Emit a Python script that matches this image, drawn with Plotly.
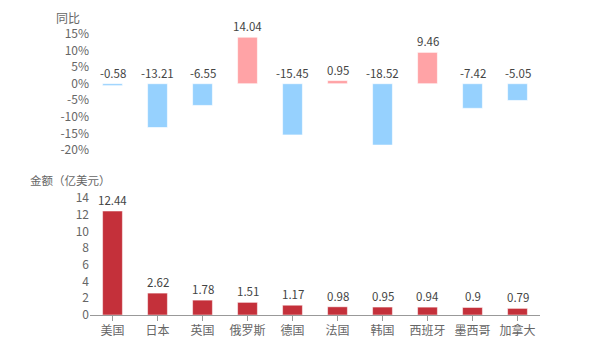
import plotly.graph_objects as go

countries = ["美国", "日本", "英国", "俄罗斯", "德国", "法国", "韩国", "西班牙", "墨西哥", "加拿大"]
yoy = [-0.58, -13.21, -6.55, 14.04, -15.45, 0.95, -18.52, 9.46, -7.42, -5.05]
amount = [12.44, 2.62, 1.78, 1.51, 1.17, 0.98, 0.95, 0.94, 0.9, 0.79]
yoy_ticks = [-20, -15, -10, -5, 0, 5, 10, 15]
amount_ticks = [0, 2, 4, 6, 8, 10, 12, 14]

FONT = "Noto Sans CJK SC, Microsoft YaHei, sans-serif"
POS = "#FFA3A6"
NEG = "#96D1FE"
RED = "#C4303A"

fig = go.Figure()
fig.add_trace(go.Bar(
    x=countries, y=yoy, xaxis="x", yaxis="y", width=0.44,
    marker=dict(color=[POS if v >= 0 else NEG for v in yoy],
                line=dict(color="rgba(255,255,255,0.6)", width=1)),
    hoverinfo="x+y", showlegend=False))
fig.add_trace(go.Bar(
    x=countries, y=amount, xaxis="x2", yaxis="y2", width=0.44,
    marker=dict(color=RED, line=dict(color="rgba(255,255,255,0.5)", width=1)),
    hoverinfo="x+y", showlegend=False))

annotations = []
for c, v in zip(countries, yoy):
    annotations.append(dict(x=c, y=max(v, 0), xref="x", yref="y", text=f"{v:g}",
                            showarrow=False, yanchor="middle", yshift=11,
                            font=dict(size=11.5, color="#444", family=FONT)))
for c, v in zip(countries, amount):
    annotations.append(dict(x=c, y=v, xref="x2", yref="y2", text=f"{v:g}",
                            showarrow=False, yanchor="middle", yshift=11,
                            font=dict(size=11.5, color="#444", family=FONT)))
annotations.append(dict(text="同比", xref="paper", yref="paper", x=(82 - 90) / 450, y=(315 - 18) / 281,
                        xanchor="right", yanchor="middle", showarrow=False,
                        font=dict(size=12, color="#666", family=FONT)))
annotations.append(dict(text="金额（亿美元）", xref="paper", yref="paper", x=(28 - 90) / 450,
                        y=(315 - 180) / 281, xanchor="left", yanchor="middle", showarrow=False,
                        font=dict(size=11.5, color="#666", family=FONT)))

top_dom = [1 - 116 / 281, 1]
bot_dom = [0, 1 - 164 / 281]

fig.update_layout(
    width=600, height=350,
    margin=dict(l=90, r=60, t=34, b=35),
    paper_bgcolor="white", plot_bgcolor="white",
    font=dict(family=FONT, size=12, color="#666"),
    xaxis=dict(domain=[0, 1], anchor="y", visible=False, categoryorder="array",
               categoryarray=countries, range=[-0.5, 9.5]),
    yaxis=dict(domain=top_dom, anchor="x", range=[-20, 15], tickvals=yoy_ticks,
               ticktext=[f"{t}%" for t in yoy_ticks], showgrid=False, zeroline=False,
               showline=False, ticks="", tickfont=dict(size=12, color="#666")),
    xaxis2=dict(domain=[0, 1], anchor="y2", categoryorder="array", categoryarray=countries,
                range=[-0.5, 9.5], showline=True, linecolor="#999", linewidth=1,
                ticks="outside", ticklen=5, tickcolor="#999", showgrid=False,
                tickfont=dict(size=12, color="#666")),
    yaxis2=dict(domain=bot_dom, anchor="x2", range=[0, 14], tickvals=amount_ticks,
                showgrid=False, zeroline=False, showline=False, ticks="",
                tickfont=dict(size=12, color="#666")),
    annotations=annotations,
)

fig.write_html("out.html")
